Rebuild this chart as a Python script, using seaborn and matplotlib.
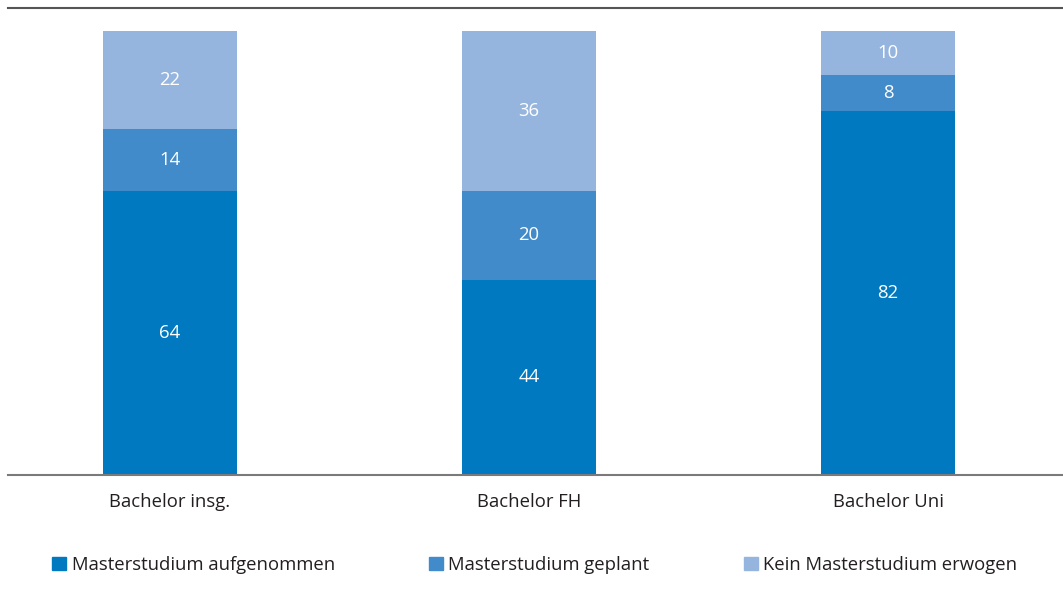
import pandas as pd
import numpy as np
import matplotlib
matplotlib.use("Agg")
import matplotlib.pyplot as plt
import seaborn as sns

# Daten
kategorien = ["Bachelor insg.", "Bachelor FH", "Bachelor Uni"]
aufgenommen = [64, 44, 82]
geplant = [14, 20, 8]
kein = [22, 36, 10]

serien = ["Masterstudium aufgenommen", "Masterstudium geplant", "Kein Masterstudium erwogen"]
farben = ["#0079C1", "#428BCA", "#95B5DF"]

df = pd.DataFrame({
    "kategorie": kategorien * 3,
    "serie": np.repeat(serien, 3),
    "wert": aufgenommen + geplant + kein,
})

sns.set_theme(style="white")
plt.rcParams["font.family"] = ["Open Sans", "DejaVu Sans"]

fig = plt.figure(figsize=(10.63, 5.97), dpi=100)
ax = fig.add_axes([8 / 1063, 1 - 475 / 597, 1055 / 1063, 467 / 597])

unten = np.zeros(len(kategorien))
for serie, farbe in zip(serien, farben):
    teil = df[df["serie"] == serie]
    sns.barplot(data=teil, x="kategorie", y="wert", order=kategorien,
                color=farbe, width=0.373, bottom=unten, ax=ax,
                label=serie, linewidth=0, saturation=1)
    for i, (w, b) in enumerate(zip(teil["wert"].values, unten)):
        ax.text(i, b + w / 2, f"{w}", ha="center", va="center",
                color="white", fontsize=13.3)
    unten = unten + teil["wert"].values

ax.set_xlim(-0.451, 2.487)
ax.set_ylim(0, 105.2)
ax.set_xlabel("")
ax.set_ylabel("")
ax.set_yticks([])
ax.tick_params(axis="x", length=0, pad=13, labelsize=13.3, colors="#231F20")
for s in ["left", "right"]:
    ax.spines[s].set_visible(False)
ax.spines["top"].set_color("#555555")
ax.spines["top"].set_linewidth(1.5)
ax.spines["bottom"].set_color("#7a7a7a")
ax.spines["bottom"].set_linewidth(1.5)

if ax.legend_:
    ax.legend_.remove()
handles = [plt.Rectangle((0, 0), 1, 1, color=f) for f in farben]
fig.legend(handles, serien, loc="center", bbox_to_anchor=(0.503, 1 - 565 / 597),
           ncol=3, frameon=False, fontsize=13.3, handlelength=0.75, handleheight=0.75,
           handletextpad=0.3, columnspacing=5.1, labelcolor="#231F20")

fig.savefig("out.png", dpi=100)
